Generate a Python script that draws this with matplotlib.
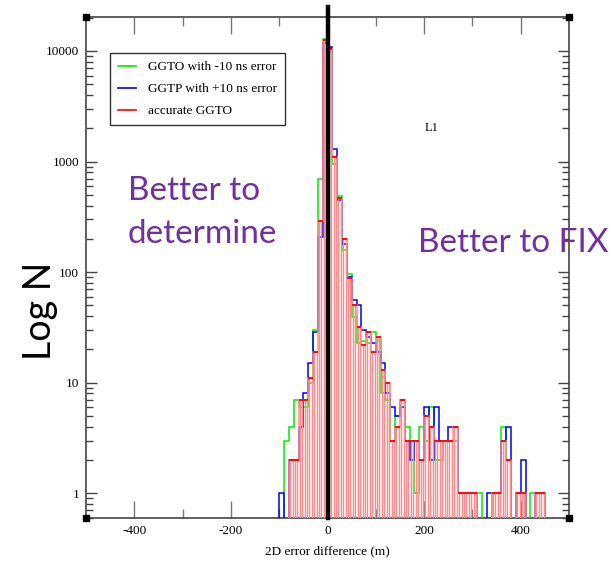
import numpy as np
import matplotlib.pyplot as plt
from matplotlib.lines import Line2D
from matplotlib.ticker import FixedLocator, LogLocator, NullFormatter, FuncFormatter

# histogram bins (left edges, 10 m wide)
bin_left = np.arange(-100, 450, 10)

green = [0, 3, 4, 7, 6, 6, 10, 30, 700, 12800, 9700, 960, 490, 160, 97, 39, 23, 24, 23, 29,
         24, 8, 7, 3, 5, 7, 4, 3, 1, 4, 3, 6, 2, 2, 3, 3, 3, 1, 1, 1,
         1, 1, 0, 0, 1, 1, 4, 2, 0, 1, 1, 0, 1, 1, 1]
blue = [1, 0, 2, 2, 4, 8, 15, 29, 210, 11800, 10900, 1300, 450, 180, 90, 56, 50, 30, 26, 23,
        19, 15, 8, 6, 5, 6, 3, 2, 3, 2, 6, 2, 6, 3, 3, 4, 4, 1, 1, 1,
        1, 0, 0, 1, 1, 1, 3, 4, 0, 1, 2, 0, 0, 1, 1]
red = [0, 0, 2, 2, 7, 7, 11, 19, 290, 12500, 10500, 1100, 465, 200, 89, 50, 32, 22, 29, 19,
       26, 13, 10, 3, 4, 7, 3, 3, 3, 2, 5, 4, 3, 3, 3, 3, 4, 1, 1, 1,
       1, 0, 0, 0, 1, 1, 3, 2, 0, 1, 1, 0, 0, 1, 1]

labels = ["GGTO with -10 ns error", "GGTP with +10 ns error", "accurate GGTO"]
x_ticks = [-400, -200, 0, 200, 400]
y_ticks = [1, 10, 100, 1000, 10000]

serif = "Liberation Serif"
purple = "#7030A0"
pink = "#ff8c8c"
FLOOR = 0.1
YLO, YHI = 0.598, 20300

fig = plt.figure(figsize=(6.11, 5.64), dpi=100)
ax = fig.add_axes([0.1408, 0.0816, 0.7905, 0.8883])

edges = np.append(bin_left, bin_left[-1] + 10)


def steps(vals, color, lw=1.1, z=3):
    v = np.asarray(vals, dtype=float)
    v = np.where(v > 0, v, FLOOR)
    ax.stairs(v, edges, baseline=FLOOR, color=color, lw=lw, zorder=z)


steps(green, "#00ee00", z=3)
steps(blue, "#0000ff", z=4)

# accurate GGTO: pale bar outlines, red tops
r = np.asarray(red, dtype=float)
m = r > 0
ax.bar(bin_left[m] + 5, r[m] - FLOOR, bottom=FLOOR, width=5, align="center",
       fill=False, edgecolor=pink, lw=1.0, zorder=5)
steps(red, pink, lw=1.1, z=6)
ax.hlines(r[m], bin_left[m], bin_left[m] + 10, color="#ff0000", lw=1.3, zorder=7)

# zero reference line
ax.axvline(0, ymin=0, ymax=1.02, color="black", lw=3.2, zorder=8, clip_on=False)

ax.set_xlim(-500, 500)
ax.set_yscale("log")
ax.set_ylim(YLO, YHI)

ax.xaxis.set_major_locator(FixedLocator(x_ticks))
ax.xaxis.set_minor_locator(FixedLocator([-300, -100, 100, 300]))
ax.yaxis.set_major_locator(FixedLocator(y_ticks))
ax.yaxis.set_minor_locator(LogLocator(base=10, subs=np.arange(2, 10)))
ax.yaxis.set_minor_formatter(NullFormatter())
ax.yaxis.set_major_formatter(FuncFormatter(lambda v, p: "%d" % v))
ax.xaxis.set_major_formatter(FuncFormatter(lambda v, p: "%d" % v))

ax.tick_params(which="both", direction="in", top=True, right=True)
ax.tick_params(axis="x", which="major", length=12, width=1.0, color="#777777",
               labelsize=9.5, pad=5)
ax.tick_params(axis="x", which="minor", length=6.5, width=1.0, color="#777777")
ax.tick_params(axis="y", which="major", length=8, width=1.0, color="#444444",
               labelsize=9.5, pad=5)
ax.tick_params(axis="y", which="minor", length=5, width=1.0, color="#444444")
for lab in ax.get_xticklabels() + ax.get_yticklabels():
    lab.set_family(serif)
for s in ax.spines.values():
    s.set_color("#444444")
    s.set_linewidth(1.2)

# little corner squares
ax.plot([-500, 500, -500, 500], [YLO, YLO, YHI, YHI], "s", color="black",
        ms=4.5, clip_on=False, zorder=9)

ax.set_xlabel("2D error difference (m)", family=serif, fontsize=9.5, labelpad=6)

handles = [Line2D([], [], color=c, lw=1.2) for c in ("#00ee00", "#0000ff", "#ff0000")]
leg = ax.legend(handles, labels, loc="upper left", bbox_to_anchor=(0.0497, 0.928),
                borderaxespad=0, fancybox=False, framealpha=1, edgecolor="#333333",
                prop={"family": serif, "size": 9.5}, handlelength=1.4, labelspacing=0.75,
                borderpad=0.6, handletextpad=0.9)
leg.get_frame().set_linewidth(1.0)

fig.text(432 / 611, 1 - 128 / 564, "L1", family=serif, fontsize=9, ha="center", va="center")

fig.text(128 / 611, 1 - 200 / 564, "Better to", color=purple, family="Lato",
         fontsize=24, ha="left", va="baseline")
fig.text(128 / 611, 1 - 243 / 564, "determine", color=purple, family="Lato",
         fontsize=24, ha="left", va="baseline")
fig.text(418 / 611, 1 - 252 / 564, "Better to FIX", color=purple, family="Lato",
         fontsize=24, ha="left", va="baseline")
fig.text(40 / 611, 1 - 311 / 564, "Log N", color="black", family="Lato",
         fontsize=27, rotation=90, ha="center", va="center")

fig.savefig("out.png", dpi=100)
